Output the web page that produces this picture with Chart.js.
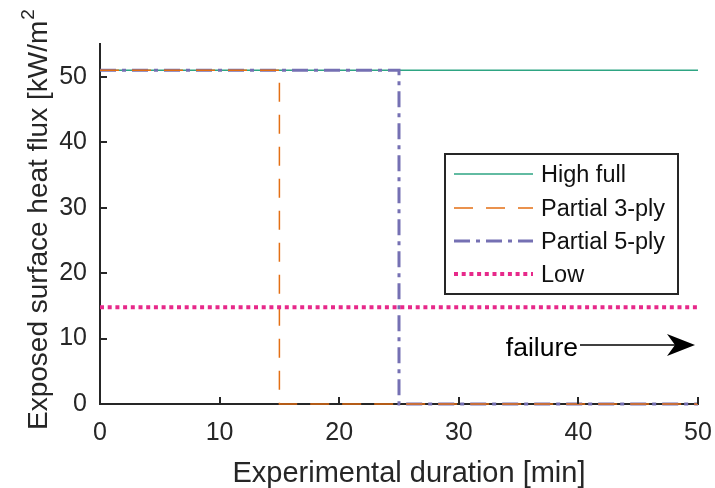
<!DOCTYPE html>
<html>
<head>
<meta charset="utf-8">
<title>Exposed surface heat flux</title>
<script src="https://cdn.jsdelivr.net/npm/chart.js@4.4.0/dist/chart.umd.min.js"></script>
<style>
  html, body { margin: 0; padding: 0; background: #fff; }
  #wrap { width: 715px; height: 488px; position: relative; }
</style>
</head>
<body>
<div id="wrap"><canvas id="flux-chart" width="715" height="488"></canvas></div>
<script>
// --- Data: heat flux step profiles (time in min, flux in kW/m2) ---
const seriesNames = ['High full', 'Partial 3-ply', 'Partial 5-ply', 'Low'];

const highTime = [0, 50];
const highFlux = [51, 51];

const ply3Time = [0, 15, 15, 50];
const ply3Flux = [51, 51, 0, 0];

const ply5Time = [0, 25, 25, 50];
const ply5Flux = [51, 51, 0, 0];

const lowTime = [0, 50];
const lowFlux = [14.8, 14.8];

const xTicks = [0, 10, 20, 30, 40, 50];
const yTicks = [0, 10, 20, 30, 40, 50];

const xTitle = 'Experimental duration [min]';
const yTitle = 'Exposed surface heat flux [kW/m';
const failureText = 'failure';

const FONT = '"Liberation Sans", Arial, Helvetica, sans-serif';
const INK = '#262626';

const toPoints = (xs, ys) => xs.map((x, i) => ({ x: x, y: ys[i] }));

// inward tick marks, like the axes of the original plotting tool
const innerTicks = {
    id: 'innerTicks',
    afterDatasetsDraw(chart) {
        const { ctx, chartArea, scales } = chart;
        ctx.save();
        ctx.strokeStyle = INK;
        ctx.lineWidth = 2;
        xTicks.forEach(v => {
            const px = Math.round(scales.x.getPixelForValue(v));
            ctx.beginPath();
            ctx.moveTo(px, chartArea.bottom);
            ctx.lineTo(px, chartArea.bottom - 7);
            ctx.stroke();
        });
        yTicks.forEach(v => {
            const py = Math.round(scales.y.getPixelForValue(v));
            ctx.beginPath();
            ctx.moveTo(chartArea.left, py);
            ctx.lineTo(chartArea.left + 7, py);
            ctx.stroke();
        });
        ctx.restore();
    }
};

// axis titles (y title carries a superscript 2)
const axisTitles = {
    id: 'axisTitles',
    afterDraw(chart) {
        const { ctx } = chart;
        ctx.save();
        ctx.fillStyle = INK;
        ctx.font = '29px ' + FONT;
        ctx.textAlign = 'center';
        ctx.textBaseline = 'alphabetic';
        ctx.fillText(xTitle, 409, 482);

        ctx.font = '28px ' + FONT;
        ctx.translate(47, 430);
        ctx.rotate(-Math.PI / 2);
        ctx.textAlign = 'left';
        ctx.fillText(yTitle, 0, 0);
        const w = ctx.measureText(yTitle).width;
        ctx.font = '19px ' + FONT;
        ctx.fillText('2', w + 1, -13);
        ctx.restore();
    }
};

// boxed legend inside the plot area
const boxLegend = {
    id: 'boxLegend',
    afterDraw(chart) {
        const { ctx } = chart;
        const left = 445, top = 154, width = 233, height = 140;
        ctx.save();
        ctx.fillStyle = '#fff';
        ctx.fillRect(left, top, width, height);
        ctx.strokeStyle = INK;
        ctx.lineWidth = 2;
        ctx.strokeRect(left, top, width, height);

        const rowY = [174, 208, 241, 274];
        chart.data.datasets.forEach((ds, i) => {
            const y = rowY[i];
            ctx.strokeStyle = ds.borderColor;
            ctx.lineWidth = ds.borderWidth;
            ctx.setLineDash(ds.borderDash || []);
            ctx.beginPath();
            ctx.moveTo(454, y);
            ctx.lineTo(533, y);
            ctx.stroke();
            ctx.setLineDash([]);
            ctx.fillStyle = '#111';
            ctx.font = '23.5px ' + FONT;
            ctx.textAlign = 'left';
            ctx.textBaseline = 'middle';
            ctx.fillText(ds.label, 541, y + 2);
        });
        ctx.restore();
    }
};

// "failure" note with an arrow pointing to the end of the test
const failureNote = {
    id: 'failureNote',
    afterDraw(chart) {
        const { ctx, scales } = chart;
        const tipX = scales.x.getPixelForValue(49.75);
        const y = scales.y.getPixelForValue(9);
        ctx.save();
        ctx.fillStyle = '#000';
        ctx.strokeStyle = '#000';
        ctx.font = '26.5px ' + FONT;
        ctx.textAlign = 'right';
        ctx.textBaseline = 'alphabetic';
        ctx.fillText(failureText, tipX - 117, y + 11);

        ctx.lineWidth = 1.5;
        ctx.beginPath();
        ctx.moveTo(tipX - 115, y);
        ctx.lineTo(tipX - 20, y);
        ctx.stroke();

        ctx.beginPath();
        ctx.moveTo(tipX, y);
        ctx.lineTo(tipX - 28, y - 11);
        ctx.lineTo(tipX - 20, y);
        ctx.lineTo(tipX - 28, y + 11);
        ctx.closePath();
        ctx.fill();
        ctx.restore();
    }
};

const ctx = document.getElementById('flux-chart');

new Chart(ctx, {
    type: 'line',
    data: {
        datasets: [
            { label: seriesNames[0], data: toPoints(highTime, highFlux), borderColor: '#2ea583', borderWidth: 1.5, order: 3 },
            { label: seriesNames[1], data: toPoints(ply3Time, ply3Flux), borderColor: '#e36f14', borderWidth: 1.5, borderDash: [19, 13], order: 1 },
            { label: seriesNames[2], data: toPoints(ply5Time, ply5Flux), borderColor: '#7570b3', borderWidth: 3, borderDash: [16, 6, 4, 6], order: 2 },
            { label: seriesNames[3], data: toPoints(lowTime, lowFlux), borderColor: '#e7298a', borderWidth: 4, borderDash: [4, 3.7], order: 0 }
        ]
    },
    options: {
        responsive: false,
        animation: false,
        events: [],
        layout: { padding: { left: 0, right: 17, top: 44, bottom: 0 } },
        elements: {
            point: { radius: 0 },
            line: { tension: 0, fill: false, borderCapStyle: 'butt' }
        },
        datasets: { line: { clip: false } },
        scales: {
            x: {
                type: 'linear',
                min: 0,
                max: 50,
                afterFit: s => { s.height = 84; s.paddingLeft = 0; s.paddingRight = 0; },
                afterBuildTicks: s => { s.ticks = xTicks.map(v => ({ value: v })); },
                grid: { display: false, drawTicks: false },
                border: { display: true, color: INK, width: 2 },
                ticks: { color: INK, font: { family: FONT, size: 25 }, padding: 14, maxRotation: 0 }
            },
            y: {
                type: 'linear',
                min: 0,
                max: 55,
                afterFit: s => { s.width = 100; s.paddingTop = 0; s.paddingBottom = 0; },
                afterBuildTicks: s => { s.ticks = yTicks.map(v => ({ value: v })); },
                grid: { display: false, drawTicks: false },
                border: { display: true, color: INK, width: 2 },
                ticks: { color: INK, font: { family: FONT, size: 25 }, padding: 13 }
            }
        },
        plugins: {
            legend: { display: false },
            tooltip: { enabled: false }
        }
    },
    plugins: [innerTicks, axisTitles, boxLegend, failureNote]
});
</script>
</body>
</html>
